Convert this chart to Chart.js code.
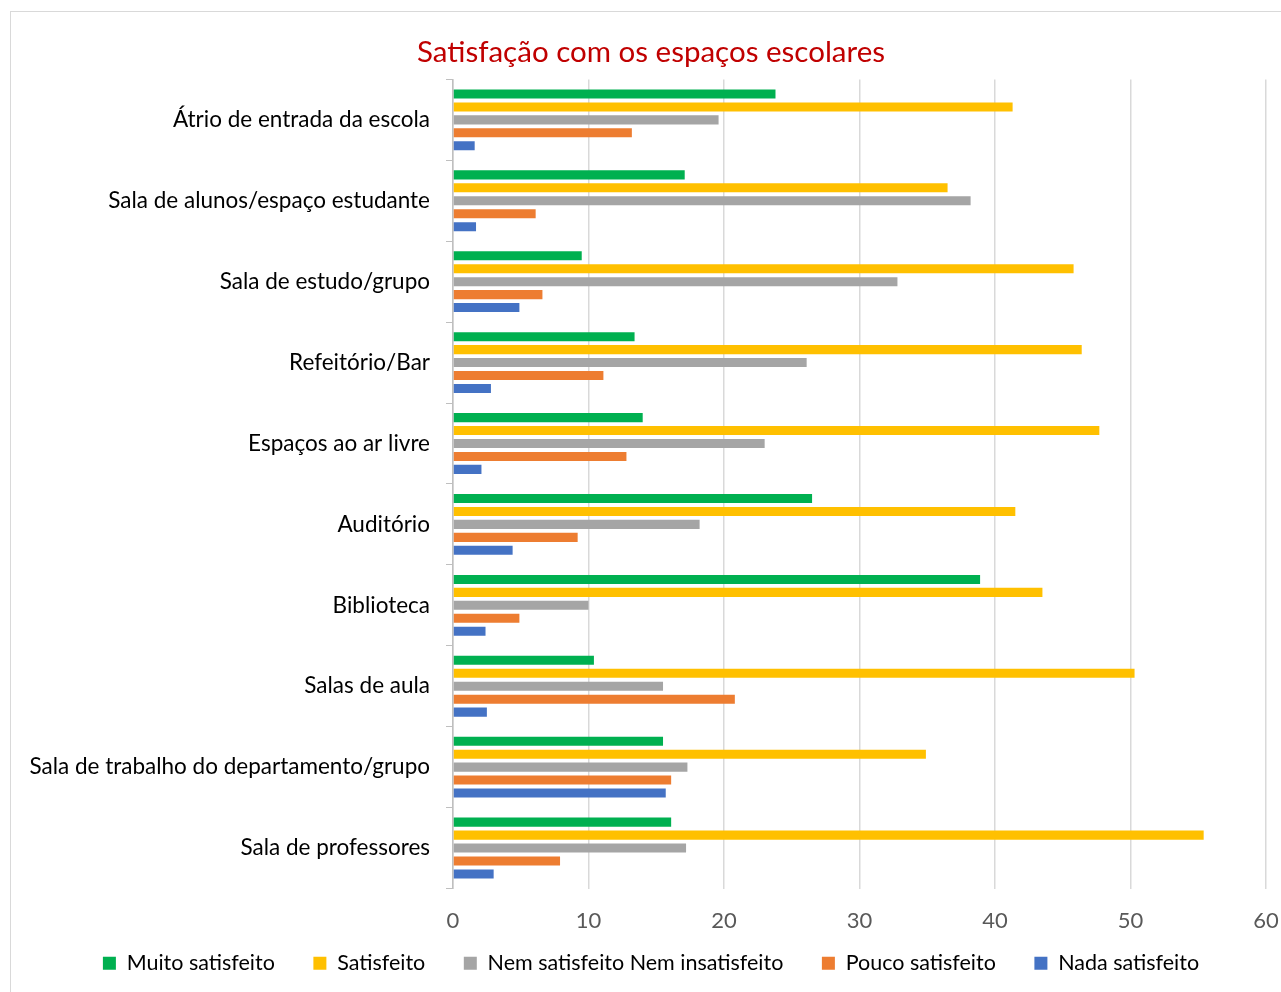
<!DOCTYPE html>
<html>
<head>
<meta charset="utf-8">
<script src="https://cdn.jsdelivr.net/npm/chart.js@4"></script>
<style>
    body { margin: 0; background: #fff; }
    #frame { position: absolute; left: 10px; top: 11px; width: 1290px; height: 1000px; border: 1px solid #d9d9d9; }
    #wrap { position: absolute; left: 0; top: 0; width: 1281px; height: 992px; }
</style>
</head>
<body>
<div id="frame"></div>
<div id="wrap"><canvas id="satChart"></canvas></div>
<script>
// Dados
const categories = [
    'Átrio de entrada da escola',
    'Sala de alunos/espaço estudante',
    'Sala de estudo/grupo',
    'Refeitório/Bar',
    'Espaços ao ar livre',
    'Auditório',
    'Biblioteca',
    'Salas de aula',
    'Sala de trabalho do departamento/grupo',
    'Sala de professores'
];
const muitoSatisfeito = [23.8, 17.1, 9.5, 13.4, 14.0, 26.5, 38.9, 10.4, 15.5, 16.1];
const satisfeito      = [41.3, 36.5, 45.8, 46.4, 47.7, 41.5, 43.5, 50.3, 34.9, 55.4];
const nemNem          = [19.6, 38.2, 32.8, 26.1, 23.0, 18.2, 10.0, 15.5, 17.3, 17.2];
const poucoSatisfeito = [13.2, 6.1, 6.6, 11.1, 12.8, 9.2, 4.9, 20.8, 16.1, 7.9];
const nadaSatisfeito  = [1.6, 1.7, 4.9, 2.8, 2.1, 4.4, 2.4, 2.5, 15.7, 3.0];
const xTicks = [0, 10, 20, 30, 40, 50, 60];

document.addEventListener('DOMContentLoaded', function() {
    const ctx = document.getElementById('satChart').getContext('2d');
    const font = 'Lato, "Noto Sans", sans-serif';

    function ds(label, data, color) {
        return {
            label: label,
            data: data,
            backgroundColor: color,
            borderWidth: 0,
            categoryPercentage: 0.8,
            barPercentage: 0.7
        };
    }

    new Chart(ctx, {
        type: 'bar',
        data: {
            labels: categories,
            datasets: [
                ds('Muito satisfeito', muitoSatisfeito, '#00b050'),
                ds('Satisfeito', satisfeito, '#ffc000'),
                ds('Nem satisfeito Nem insatisfeito', nemNem, '#a5a5a5'),
                ds('Pouco satisfeito', poucoSatisfeito, '#ed7d31'),
                ds('Nada satisfeito', nadaSatisfeito, '#4472c4')
            ]
        },
        options: {
            indexAxis: 'y',
            responsive: true,
            maintainAspectRatio: false,
            animation: false,
            layout: {
                // negative right padding moves the centre of title/legend to the frame's centre
                padding: { left: 10, right: -11, top: 22, bottom: 8 }
            },
            plugins: {
                title: {
                    display: true,
                    text: 'Satisfação com os espaços escolares',
                    color: '#c00000',
                    font: { family: font, size: 29.5, weight: 'normal' },
                    padding: { top: 13, bottom: 9 }
                },
                legend: {
                    position: 'bottom',
                    labels: {
                        color: '#000',
                        font: { family: font, size: 21.5 },
                        boxWidth: 13,
                        boxHeight: 13,
                        padding: 0,
                        // room between the entries (padding is kept small vertically)
                        generateLabels: function(chart) {
                            const items = Chart.defaults.plugins.legend.labels.generateLabels(chart);
                            items.forEach((it, i) => {
                                if (i < items.length - 1) it.text = it.text + '       ';
                            });
                            return items;
                        }
                    }
                },
                tooltip: { enabled: false }
            },
            scales: {
                x: {
                    min: 0,
                    max: 60,
                    afterBuildTicks: function(scale) {
                        scale.ticks = xTicks.map(v => ({ value: v }));
                    },
                    afterFit: function(scale) { scale.paddingRight = 15; },
                    grid: { color: '#d9d9d9', lineWidth: 1.5, drawTicks: false },
                    border: { display: false },
                    ticks: {
                        color: '#595959',
                        font: { family: font, size: 22, lineHeight: 1 },
                        padding: 21
                    }
                },
                y: {
                    afterFit: function(scale) { scale.width = 443; },
                    grid: { drawOnChartArea: false, color: '#bfbfbf', tickLength: 7, offset: true },
                    border: { color: '#bfbfbf', width: 1.5 },
                    ticks: {
                        color: '#000',
                        font: { family: font, size: 22.5 },
                        padding: 16
                    }
                }
            }
        }
    });
});
</script>
</body>
</html>
